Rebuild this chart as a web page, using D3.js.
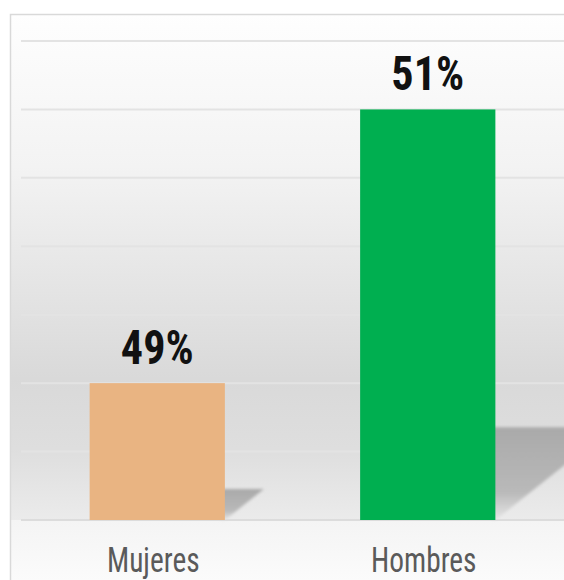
<!DOCTYPE html>
<html>
<head>
<meta charset="utf-8">
<script src="https://cdn.jsdelivr.net/npm/d3@7"></script>
<style>
  html, body { margin: 0; padding: 0; background: #ffffff; }
  svg { display: block; }
</style>
</head>
<body>
<svg id="chart" width="564" height="580"></svg>
<script>
// ---- data ----
const categories = ["Mujeres", "Hombres"];
const values = [49, 51];
const valueLabels = ["49%", "51%"];
const barColors = ["#E9B482", "#00AF50"];
const yTicks = [48, 48.5, 49, 49.5, 50, 50.5, 51, 51.5];

// ---- layout ----
const W = 564, H = 580;
const svg = d3.select("#chart");
const defs = svg.append("defs");

const plotTop = 41, plotBottom = 520;
const x = d3.scaleBand().domain(categories).range([22, 563]).paddingInner(0.5).paddingOuter(0.25);
const y = d3.scaleLinear().domain([48, 51.5]).range([plotBottom, plotTop]);

// panel background gradient
const bg = defs.append("linearGradient").attr("id", "bg")
  .attr("gradientUnits", "userSpaceOnUse").attr("x1", 0).attr("y1", 14).attr("x2", 0).attr("y2", plotBottom);
[[0, "#fefefe"], [0.3, "#f3f3f3"], [0.58, "#e2e2e2"], [0.72, "#d9d9d9"], [0.86, "#dedede"], [1, "#ebebeb"]]
  .forEach(([o, c]) => bg.append("stop").attr("offset", o).attr("stop-color", c));

const bg2 = defs.append("linearGradient").attr("id", "bg2").attr("gradientUnits", "userSpaceOnUse")
  .attr("x1", 0).attr("y1", plotBottom).attr("x2", 0).attr("y2", H);
[[0, "#f4f4f4"], [1, "#fbfbfb"]].forEach(([o, c]) => bg2.append("stop").attr("offset", o).attr("stop-color", c));

// panel
svg.append("rect").attr("x", 10).attr("y", 14).attr("width", W).attr("height", plotBottom - 14)
  .attr("fill", "url(#bg)");
svg.append("rect").attr("x", 10).attr("y", plotBottom).attr("width", W).attr("height", H - plotBottom)
  .attr("fill", "url(#bg2)");
svg.append("path").attr("d", `M10.5,${H} V14.5 H${W}`).attr("fill", "none")
  .attr("stroke", "#d9d9d9").attr("stroke-width", 1.5);

// gridlines
svg.append("g").selectAll("line").data(yTicks.slice(1)).join("line")
  .attr("x1", 21).attr("x2", W)
  .attr("y1", d => y(d)).attr("y2", d => y(d))
  .attr("stroke", "#e3e3e3").attr("stroke-width", 2);

// shadows
const sg = defs.append("linearGradient").attr("id", "shadow").attr("x1", 0).attr("y1", 0).attr("x2", 0).attr("y2", 1);
sg.append("stop").attr("offset", 0).attr("stop-color", "#a9a9a9");
sg.append("stop").attr("offset", 0.7).attr("stop-color", "#b9b9b9");
sg.append("stop").attr("offset", 1).attr("stop-color", "#e6e6e6");
defs.append("filter").attr("id", "blur").attr("x", "-20%").attr("y", "-20%").attr("width", "140%").attr("height", "140%")
  .append("feGaussianBlur").attr("stdDeviation", 1.8);

svg.append("g").selectAll("path").data(categories).join("path")
  .attr("d", (c, i) => {
    const r = x(c) + x.bandwidth();
    const hs = (plotBottom - y(values[i])) * 0.226;
    const t = plotBottom - hs;
    return `M${r - 4},${t} L${r + hs * 1.26},${t} L${r},${plotBottom} L${r - 4},${plotBottom} Z`;
  })
  .attr("fill", "url(#shadow)")
  .attr("filter", "url(#blur)");

// baseline
svg.append("line").attr("x1", 21).attr("x2", W).attr("y1", plotBottom).attr("y2", plotBottom)
  .attr("stroke", "#dcdcdc").attr("stroke-width", 2);

// bars
svg.append("g").selectAll("rect").data(categories).join("rect")
  .attr("x", c => x(c))
  .attr("y", (c, i) => y(values[i]))
  .attr("width", x.bandwidth())
  .attr("height", (c, i) => plotBottom - y(values[i]))
  .attr("fill", (c, i) => barColors[i]);

const fontFam = "'Liberation Sans Narrow', 'Arial Narrow', 'Roboto Condensed', sans-serif";

// value labels
svg.append("g").selectAll("text").data(categories).join("text")
  .attr("transform", (c, i) => `translate(${x(c) + x.bandwidth() / 2},${y(values[i]) - 19}) scale(0.92,1)`)
  .attr("text-anchor", "middle")
  .attr("font-family", fontFam)
  .attr("font-weight", "bold")
  .attr("font-size", 48)
  .attr("fill", "#111")
  .text((c, i) => valueLabels[i]);

// category labels
svg.append("g").selectAll("text").data(categories).join("text")
  .attr("transform", c => `translate(${x(c) + x.bandwidth() / 2 - 4},572) scale(0.84,1)`)
  .attr("text-anchor", "middle")
  .attr("font-family", fontFam)
  .attr("font-size", 35)
  .attr("fill", "#5a5a5a")
  .text(c => c);
</script>
</body>
</html>
